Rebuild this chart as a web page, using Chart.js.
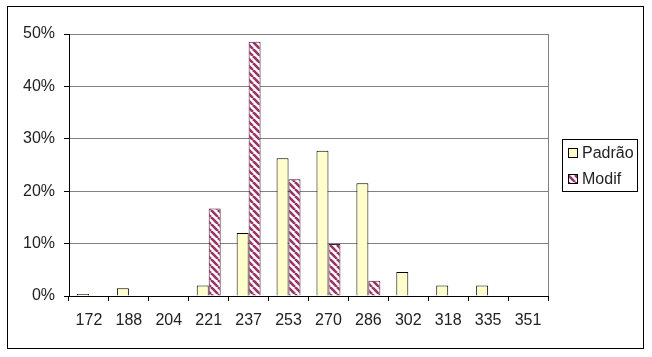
<!DOCTYPE html>
<html>
<head>
<meta charset="utf-8">
<script src="https://cdn.jsdelivr.net/npm/chart.js@4"></script>
<style>
  body { margin: 0; background: #fff; }
  #frame { position: absolute; left: 7px; top: 6px; width: 635px; height: 341px; border: 1px solid #000; }
  #chart { display: block; }
</style>
</head>
<body>
<div id="frame"><canvas id="chart" width="635" height="341"></canvas></div>
<script>
const categories = ['172', '188', '204', '221', '237', '253', '270', '286', '302', '318', '335', '351'];
const padrao = [0.004, 0.015, 0, 0.02, 0.12, 0.263, 0.277, 0.215, 0.046, 0.02, 0.02, 0];
const modif = [0, 0, 0, 0.167, 0.485, 0.223, 0.099, 0.029, 0, 0, 0, 0];
const seriesNames = ['Padrão', 'Modif'];

const FONT = { family: '"Liberation Sans", Arial, sans-serif', size: 16 };
const TEXT = '#222';

// diagonal hatch for Modif
function hatch() {
  const s = 7;
  const c = document.createElement('canvas');
  c.width = s; c.height = s;
  const g = c.getContext('2d');
  g.fillStyle = '#fff';
  g.fillRect(0, 0, s, s);
  g.strokeStyle = '#993366';
  g.lineWidth = 2.6;
  for (let k = -1; k <= 1; k++) {
    g.beginPath();
    g.moveTo(k * s, 0);
    g.lineTo(k * s + s, s);
    g.stroke();
  }
  return g.createPattern(c, 'repeat');
}
const hatchFill = hatch();

// right border of plot area + legend box
const extras = {
  id: 'extras',
  beforeDatasetsDraw(chart) {
    const a = chart.chartArea, ctx = chart.ctx;
    ctx.save();
    ctx.strokeStyle = '#808080';
    ctx.lineWidth = 1;
    ctx.beginPath();
    ctx.moveTo(Math.round(a.right) + 0.5, a.top);
    ctx.lineTo(Math.round(a.right) + 0.5, a.bottom);
    ctx.stroke();
    ctx.restore();
  },
  afterDraw(chart) {
    const ctx = chart.ctx;
    const x = 554, y = 132, w = 75, h = 52;
    ctx.save();
    ctx.strokeStyle = '#000';
    ctx.lineWidth = 1;
    ctx.strokeRect(x + 0.5, y + 0.5, w, h);
    ctx.font = FONT.size + 'px ' + FONT.family;
    ctx.textBaseline = 'middle';
    chart.data.datasets.forEach((ds, i) => {
      const cy = y + 14 + i * 26;
      ctx.fillStyle = ds.backgroundColor;
      ctx.fillRect(x + 6.5, cy - 4.5, 9, 9);
      ctx.strokeStyle = '#000';
      ctx.strokeRect(x + 6.5, cy - 4.5, 9, 9);
      ctx.fillStyle = TEXT;
      ctx.fillText(ds.label, x + 20, cy + 1);
    });
    ctx.restore();
  }
};

new Chart(document.getElementById('chart'), {
  type: 'bar',
  data: {
    labels: categories,
    datasets: [
      { label: seriesNames[0], data: padrao, backgroundColor: '#ffffcc', borderColor: '#000', borderWidth: 1 },
      { label: seriesNames[1], data: modif, backgroundColor: hatchFill, borderColor: '#4a1a30', borderWidth: 1 }
    ]
  },
  options: {
    responsive: false,
    animation: false,
    layout: { padding: { left: 0, top: 27, right: 95, bottom: 0 } },
    datasets: { bar: { barPercentage: 1.0, categoryPercentage: 0.6 } },
    plugins: { legend: { display: false }, tooltip: { enabled: false } },
    scales: {
      x: {
        offset: true,
        grid: { offset: true, drawOnChartArea: false, color: '#000', tickLength: 5 },
        border: { color: '#000' },
        ticks: { color: TEXT, font: FONT, padding: 10, maxRotation: 0, autoSkip: false },
        afterFit: s => { s.height = 52; }
      },
      y: {
        min: 0, max: 0.5,
        grid: { color: '#808080', tickColor: '#000', tickLength: 5 },
        border: { color: '#000' },
        ticks: { stepSize: 0.1, color: TEXT, font: FONT, padding: 9,
          callback: v => Math.round(v * 100) + '%' },
        afterFit: s => { s.width = 61; }
      }
    }
  },
  plugins: [extras]
});
</script>
</body>
</html>
